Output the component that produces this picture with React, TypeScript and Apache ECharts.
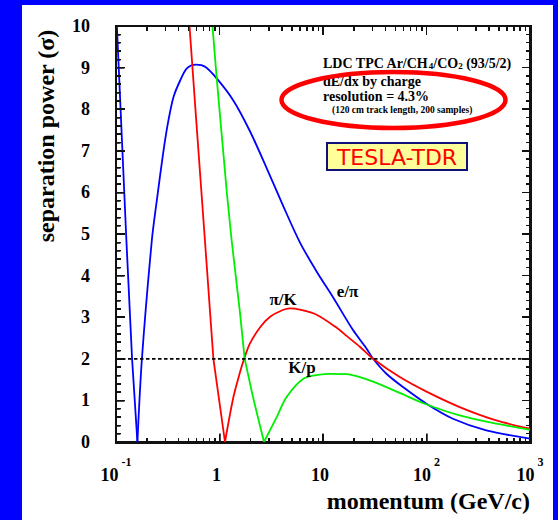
import React, { useEffect, useRef, useState } from 'react';
import * as echarts from 'echarts';

const SERIF = '"Liberation Serif", "Times New Roman", serif';

// ---- data ----
const momentumRange = [0.1, 1000];
const separationRange = [0, 10];
const thresholdLevel = 2;

// e/pi separation (blue)
const ePiFalling: [number, number][] = [
  [0.102, 10], [0.126, 4.85], [0.143, 2.0], [0.161, 0],
];
const ePiRising: [number, number][] = [
  [0.161, 0], [0.178, 2.0], [0.222, 4.85], [0.248, 5.81], [0.288, 7.01], [0.321, 7.73],
  [0.359, 8.29], [0.417, 8.69], [0.484, 8.98], [0.594, 9.07], [0.726, 9.02],
  [0.94, 8.74], [1.36, 8.21], [1.97, 7.47], [2.86, 6.58], [4.13, 5.67], [5.98, 4.8],
  [8.67, 4.1], [12.5, 3.48], [19.5, 2.69], [26.3, 2.25], [30.5, 2.0], [41, 1.64],
  [59.3, 1.32], [99.8, 0.92], [180, 0.56], [378, 0.28], [1000, 0.08],
];

// pi/K separation (red)
const piKFalling: [number, number][] = [
  [0.513, 10], [0.596, 7.73], [0.723, 4.85], [0.873, 2.0], [1.13, 0],
];
const piKRising: [number, number][] = [
  [1.13, 0], [1.36, 1.07], [1.58, 1.68], [1.73, 2.0], [1.97, 2.37], [2.47, 2.76], [3.08, 3.01],
  [3.89, 3.15], [4.8, 3.21], [5.98, 3.18], [8.67, 3.06], [13.5, 2.75], [16.9, 2.55],
  [22.7, 2.29], [30.5, 2.0], [55.2, 1.56], [100, 1.21], [209, 0.84], [472, 0.52], [1000, 0.32],
];

// K/p separation (green)
const kPFalling: [number, number][] = [
  [0.855, 10], [0.94, 8.74], [1.18, 5.97], [1.31, 4.85], [1.58, 3.09], [1.75, 2.0], [2.12, 1.05], [2.69, 0],
];
const kPRising: [number, number][] = [
  [2.69, 0], [3.57, 0.6], [4.45, 1.08], [6.46, 1.52], [9.33, 1.62], [11.7, 1.64], [16.9, 1.63],
  [22.7, 1.56], [30.5, 1.45], [55.2, 1.18], [96, 0.92], [209, 0.64], [472, 0.44], [1000, 0.29],
];

// tick positions of the frame (ticks on all four sides)
const momentumMajorTicks = [1, 10, 100];
const momentumMinorTicks = [
  0.2, 0.3, 0.4, 0.5, 0.6, 0.7, 0.8, 0.9,
  2, 3, 4, 5, 6, 7, 8, 9,
  20, 30, 40, 50, 60, 70, 80, 90,
  200, 300, 400, 500, 600, 700, 800, 900,
];
const separationMajorTicks = [0, 1, 2, 3, 4, 5, 6, 7, 8, 9, 10];
const separationMinorStep = 0.2;

// layout (pixels)
const GRID = { left: 116, top: 26, width: 414, height: 416 };
const MAJOR_LEN = 8.5;
const MINOR_LEN = 4.5;
const TICK_W = 1.5;
const FRAME_COLOR = '#111111';

const xTickExponentLabel = (v: number) => {
  const e = Math.round(Math.log10(v));
  if (e === 0) return '{b|1}{sup| }';
  if (e === 1) return '{b|10}{sup| }';
  return '{b|10}{sup|' + e + '}';
};

const BLUE = '#0000ff';
const RED = '#ff0000';
const GREEN = '#00ee00';

const text = (t: string, x: number, y: number, size: number, extra: any = {}) => ({
  type: 'text',
  x,
  y,
  z: 10,
  style: {
    text: t,
    fontFamily: SERIF,
    fontWeight: 'bold',
    fontSize: size,
    fill: '#000',
    align: 'left',
    verticalAlign: 'middle',
    ...extra,
  },
});

const annotationGraphics: any[] = [
  {
    type: 'text',
    x: 46,
    y: 136,
    rotation: Math.PI / 2,
    z: 10,
    style: {
      text: 'separation power (σ)',
      fontFamily: SERIF,
      fontWeight: 'bold',
      fontSize: 24,
      fill: '#000',
      align: 'center',
      verticalAlign: 'middle',
    },
  },
  text('momentum (GeV/c)', 530, 501, 24, { align: 'right' }),
  text('LDC TPC Ar/CH{sub|4}/CO{sub|2} (93/5/2)', 323, 63, 14, {
    rich: { sub: { fontFamily: SERIF, fontWeight: 'bold', fontSize: 9, padding: [6, 0, 0, 0], verticalAlign: 'bottom' } },
  }),
  text('dE/dx by charge', 323, 81, 14),
  text('resolution = 4.3%', 323, 96, 14),
  text('(120 cm track length, 200 samples)', 332, 109.5, 9.5),
  {
    type: 'ellipse',
    z: 11,
    shape: { cx: 393.5, cy: 100, rx: 112, ry: 28 },
    style: { fill: 'none', stroke: '#ff0000', lineWidth: 4.5 },
  },
  {
    type: 'rect',
    z: 10,
    shape: { x: 327, y: 143, width: 140, height: 27 },
    style: { fill: '#ffff99', stroke: '#10107a', lineWidth: 2 },
  },
  {
    type: 'text',
    x: 397,
    y: 157,
    z: 11,
    style: {
      text: 'TESLA-TDR',
      fontFamily: '"DejaVu Sans", sans-serif',
      fontSize: 22,
      fill: '#ff0000',
      align: 'center',
      verticalAlign: 'middle',
    },
  },
  text('e/π', 347.5, 291, 17, { align: 'center' }),
  text('π/K', 283, 299, 17, { align: 'center' }),
  text('K/p', 302, 367, 17, { align: 'center' }),
];

function buildOption(): any {
  const [xMin, xMax] = momentumRange;
  const [yMin, yMax] = separationRange;
  const curve = (name: string, data: [number, number][], color: string, smooth: boolean | number) => ({
    type: 'line',
    name,
    data,
    showSymbol: false,
    symbol: 'none',
    smooth,
    lineStyle: { color, width: 1.8 },
    z: 4,
  });

  return {
    animation: false,
    backgroundColor: 'transparent',
    grid: { ...GRID, show: true, borderColor: FRAME_COLOR, borderWidth: 2 },
    xAxis: {
      type: 'log',
      logBase: 10,
      min: xMin,
      max: xMax,
      axisLine: { show: true, onZero: false, lineStyle: { color: FRAME_COLOR, width: 2 } },
      axisTick: { show: true, inside: true, length: MAJOR_LEN, lineStyle: { color: FRAME_COLOR, width: TICK_W } },
      splitLine: { show: false },
      axisLabel: {
        show: true,
        margin: 22,
        color: '#000',
        formatter: xTickExponentLabel,
        rich: {
          b: { fontFamily: SERIF, fontWeight: 'bold', fontSize: 18, lineHeight: 20, color: '#000', verticalAlign: 'bottom' },
          sup: { fontFamily: SERIF, fontWeight: 'bold', fontSize: 12, lineHeight: 12, color: '#000', padding: [0, 0, 16, 3], verticalAlign: 'bottom' },
        },
      },
    },
    yAxis: {
      type: 'value',
      min: yMin,
      max: yMax,
      interval: 1,
      axisLine: { show: true, onZero: false, lineStyle: { color: FRAME_COLOR, width: 2 } },
      axisTick: { show: true, inside: true, length: MAJOR_LEN, lineStyle: { color: FRAME_COLOR, width: TICK_W } },
      minorTick: { show: true, splitNumber: 5, length: MINOR_LEN, lineStyle: { color: FRAME_COLOR, width: TICK_W } },
      splitLine: { show: false },
      axisLabel: { show: true, margin: 26, color: '#000', fontFamily: SERIF, fontWeight: 'bold', fontSize: 18 },
    },
    series: [
      curve('e/π', ePiFalling, BLUE, false),
      curve('e/π', ePiRising, BLUE, 0.3),
      curve('π/K', piKFalling, RED, false),
      curve('π/K', piKRising, RED, 0.3),
      curve('K/p', kPFalling, GREEN, false),
      curve('K/p', kPRising, GREEN, 0.3),
      {
        type: 'line',
        name: '2σ',
        data: [[xMin, thresholdLevel], [xMax, thresholdLevel]],
        showSymbol: false,
        symbol: 'none',
        lineStyle: { color: '#000', width: 1.8, type: [3.5, 2.5] },
        z: 5,
      },
    ],
    graphic: annotationGraphics,
  };
}

type Box = { x: number; y: number; w: number; h: number };

// tick boxes placed through the chart's own scales (fallback: same log/linear mapping of the grid)
function buildTicks(chart: echarts.ECharts | null): Box[] {
  const [xMin, xMax] = momentumRange;
  const [yMin, yMax] = separationRange;
  const fallback = (x: number, y: number) => [
    GRID.left + (Math.log10(x / xMin) / Math.log10(xMax / xMin)) * GRID.width,
    GRID.top + GRID.height - ((y - yMin) / (yMax - yMin)) * GRID.height,
  ];
  const toPx = (x: number, y: number): number[] => {
    let p: any = null;
    try {
      p = chart ? chart.convertToPixel({ xAxisIndex: 0, yAxisIndex: 0 }, [x, y]) : null;
    } catch (e) {
      p = null;
    }
    if (!p || !isFinite(p[0]) || !isFinite(p[1])) return fallback(x, y);
    return p;
  };
  const out: Box[] = [];
  const left = toPx(xMin, yMin)[0];
  const right = toPx(xMax, yMin)[0];
  const bottom = toPx(xMin, yMin)[1];
  const top = toPx(xMin, yMax)[1];
  const addX = (m: number, len: number) => {
    const px = toPx(m, yMin)[0];
    out.push({ x: px - TICK_W / 2, y: bottom - len, w: TICK_W, h: len });
    out.push({ x: px - TICK_W / 2, y: top, w: TICK_W, h: len });
  };
  momentumMajorTicks.forEach((m) => addX(m, MAJOR_LEN));
  momentumMinorTicks.forEach((m) => addX(m, MINOR_LEN));
  const addY = (v: number, len: number) => {
    const py = toPx(xMin, v)[1];
    out.push({ x: left, y: py - TICK_W / 2, w: len, h: TICK_W });
    out.push({ x: right - len, y: py - TICK_W / 2, w: len, h: TICK_W });
  };
  separationMajorTicks.forEach((v, i) => {
    addY(v, MAJOR_LEN);
    if (i < separationMajorTicks.length - 1) {
      for (let j = 1; j < 5; j++) addY(v + j * separationMinorStep, MINOR_LEN);
    }
  });
  return out;
}

export default function App() {
  const ref = useRef<HTMLDivElement>(null);
  const [ticks, setTicks] = useState<Box[]>(() => buildTicks(null));
  useEffect(() => {
    document.body.style.margin = '0';
    if (!ref.current) return;
    const chart = echarts.init(ref.current, null, { renderer: 'svg' });
    chart.setOption(buildOption());
    setTicks(buildTicks(chart));
    return () => chart.dispose();
  }, []);
  return (
    <div style={{ position: 'relative', width: 558, height: 520, background: '#0000ff', overflow: 'hidden' }}>
      <div style={{ position: 'absolute', left: 22, top: 5, width: 531, height: 515, background: '#ffffff' }} />
      <div ref={ref} style={{ position: 'absolute', left: 0, top: 0, width: 558, height: 520 }} />
      <div
        style={{
          position: 'absolute',
          left: GRID.left - 1.5,
          top: GRID.top - 1.5,
          width: GRID.width + 3,
          height: GRID.height + 3,
          border: '2.5px solid ' + FRAME_COLOR,
          boxSizing: 'border-box',
          pointerEvents: 'none',
          zIndex: 5,
        }}
      />
      {ticks.map((t, i) => (
        <div
          key={i}
          style={{
            position: 'absolute',
            left: t.x,
            top: t.y,
            width: t.w,
            height: t.h,
            background: FRAME_COLOR,
            pointerEvents: 'none',
            zIndex: 6,
          }}
        />
      ))}
    </div>
  );
}
